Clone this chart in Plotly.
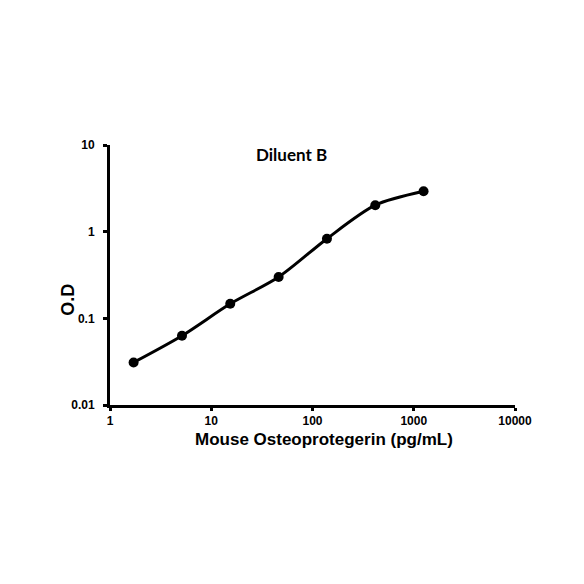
import plotly.graph_objects as go

# standard curve, Diluent B
conc = [1.71, 5.14, 15.4, 46.3, 138.9, 416.7, 1250]
od = [0.031, 0.063, 0.147, 0.30, 0.83, 2.02, 2.92]

x_ticks = [1, 10, 100, 1000, 10000]
x_labels = ["1", "10", "100", "1000", "10000"]
y_ticks = [0.01, 0.1, 1, 10]
y_labels = ["0.01", "0.1", "1", "10"]

FONT = "Liberation Sans, Arial, sans-serif"
TITLE_FONT = "Lato, Open Sans, sans-serif"

fig = go.Figure()

fig.add_trace(
    go.Scatter(
        x=conc,
        y=od,
        mode="lines+markers",
        line=dict(color="black", width=3, shape="spline", smoothing=0.8),
        marker=dict(color="black", size=10),
        showlegend=False,
    )
)

# chart title inside the plot area
fig.add_annotation(
    x=0.449, y=0.965, xref="paper", yref="paper",
    xanchor="center", yanchor="middle",
    text="<b>Diluent B</b>", showarrow=False,
    font=dict(family=TITLE_FONT, size=17, color="black"),
)

# axis titles placed as annotations to match the reference offsets
fig.add_annotation(
    x=0.528, y=-0.133, xref="paper", yref="paper",
    xanchor="center", yanchor="middle",
    text="<b>Mouse Osteoprotegerin (pg/mL)</b>", showarrow=False,
    font=dict(family=FONT, size=17, color="black"),
)
fig.add_annotation(
    x=-0.104, y=0.404, xref="paper", yref="paper",
    xanchor="center", yanchor="middle",
    text="<b>O.D</b>", showarrow=False, textangle=-90,
    font=dict(family=FONT, size=18, color="black"),
)

fig.update_layout(
    width=584,
    height=584,
    margin=dict(l=102, r=77, t=137, b=187),
    plot_bgcolor="white",
    paper_bgcolor="white",
    font=dict(family=FONT, color="black"),
)

fig.update_xaxes(
    type="log",
    range=[0, 4],
    tickvals=x_ticks,
    ticktext=x_labels,
    tickfont=dict(family=FONT, size=12, color="black", weight="bold"),
    ticks="outside",
    ticklen=3,
    tickwidth=3,
    tickcolor="black",
    showline=True,
    linecolor="black",
    linewidth=3,
    showgrid=False,
    zeroline=False,
)

fig.update_yaxes(
    type="log",
    range=[-2, 1],
    tickvals=y_ticks,
    ticktext=y_labels,
    tickfont=dict(family=FONT, size=12, color="black", weight="bold"),
    ticks="outside",
    ticklen=4,
    tickwidth=3,
    tickcolor="black",
    ticklabelstandoff=6,
    showline=True,
    linecolor="black",
    linewidth=3,
    showgrid=False,
    zeroline=False,
)

fig.write_html("out.html")
